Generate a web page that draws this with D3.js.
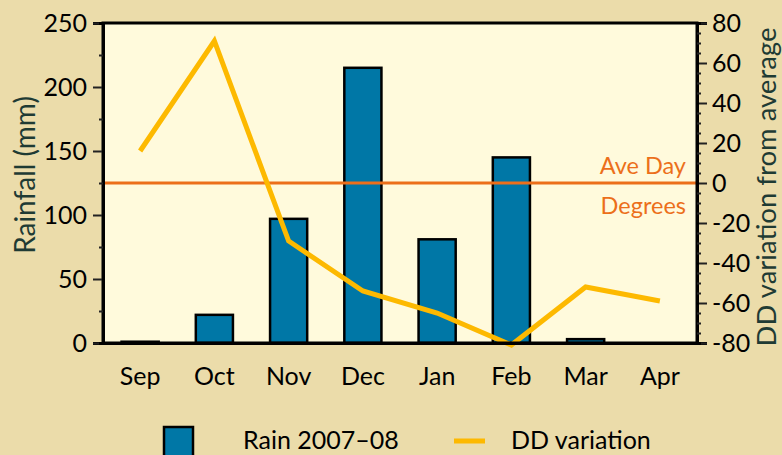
<!DOCTYPE html>
<html>
<head>
<meta charset="utf-8">
<script src="https://cdn.jsdelivr.net/npm/d3@7"></script>
<style>
  html, body { margin: 0; padding: 0; background: #ebdcaa; }
  svg { display: block; font-family: Lato, "Open Sans", sans-serif; }
</style>
</head>
<body>
<svg id="chart" width="782" height="455"></svg>
<script>
// Data
const months = ['Sep', 'Oct', 'Nov', 'Dec', 'Jan', 'Feb', 'Mar', 'Apr'];
const rain = [1, 22, 97, 215, 81, 145, 3, 0];          // mm
const ddVariation = [16, 71, -29, -54, -65, -81, -52, -59]; // degree days
const rainTicks = [0, 50, 100, 150, 200, 250];
const ddTicks = [-80, -60, -40, -20, 0, 20, 40, 60, 80];
const legendNames = ['Rain 2007\u201308', 'DD variation'];

// Some set up.
const width = 782;
const height = 455;
const margin = { top: 23, right: 85, bottom: 112, left: 103 };
const plotW = width - margin.left - margin.right;
const plotH = height - margin.top - margin.bottom;

const blue = '#0077a6';
const gold = '#fdb900';
const orange = '#ec6f1a';
const titleColour = '#1f3b34';

const svg = d3.select('#chart');

// Scales
const x = d3.scaleBand()
  .domain(months)
  .range([margin.left, margin.left + plotW])
  .paddingInner(0.5)
  .paddingOuter(0.25);
const yLeft = d3.scaleLinear().domain([0, 250]).range([margin.top + plotH, margin.top]);
const yRight = d3.scaleLinear().domain([-80, 80]).range([margin.top + plotH, margin.top]);

// Plot background
svg.append('rect')
  .attr('x', margin.left).attr('y', margin.top)
  .attr('width', plotW).attr('height', plotH)
  .attr('fill', '#fffadc');

// Bars
svg.append('g')
  .selectAll('rect')
  .data(months)
  .join('rect')
  .attr('x', d => x(d))
  .attr('y', (d, i) => yLeft(rain[i]))
  .attr('width', x.bandwidth())
  .attr('height', (d, i) => yLeft(0) - yLeft(rain[i]))
  .attr('fill', blue)
  .attr('stroke', '#000')
  .attr('stroke-width', 2.5)
  .style('display', (d, i) => rain[i] > 0 ? null : 'none');

// Zero line of the degree-day axis
svg.append('line')
  .attr('x1', margin.left).attr('x2', margin.left + plotW)
  .attr('y1', yRight(0)).attr('y2', yRight(0))
  .attr('stroke', orange).attr('stroke-width', 3);

svg.append('text')
  .attr('x', margin.left + plotW - 11).attr('y', yRight(0) - 9)
  .attr('text-anchor', 'end')
  .attr('fill', orange).attr('font-size', 23.5)
  .text('Ave Day');
svg.append('text')
  .attr('x', margin.left + plotW - 11).attr('y', yRight(0) + 31)
  .attr('text-anchor', 'end')
  .attr('fill', orange).attr('font-size', 23.5)
  .text('Degrees');

// DD line
const line = d3.line()
  .x((d, i) => x(months[i]) + x.bandwidth() / 2)
  .y(d => yRight(d));
svg.append('path')
  .datum(ddVariation)
  .attr('d', line)
  .attr('fill', 'none')
  .attr('stroke', gold)
  .attr('stroke-width', 5)
  .attr('stroke-linejoin', 'miter');

// Frame
svg.append('path')
  .attr('d', `M${margin.left},${margin.top + plotH}V${margin.top}H${margin.left + plotW}V${margin.top + plotH}Z`)
  .attr('fill', 'none').attr('stroke', '#000').attr('stroke-width', 3);

// Left axis (major + minor)
svg.append('g')
  .attr('transform', `translate(${margin.left},0)`)
  .call(d3.axisLeft(yLeft).tickValues(rainTicks).tickSize(10).tickPadding(6));
svg.append('g')
  .attr('transform', `translate(${margin.left},0)`)
  .call(d3.axisLeft(yLeft).tickValues(d3.range(25, 250, 50)).tickSize(4).tickFormat(''));

// Right axis (major + minor)
svg.append('g')
  .attr('transform', `translate(${margin.left + plotW},0)`)
  .call(d3.axisRight(yRight).tickValues(ddTicks).tickSize(10).tickPadding(5).tickFormat(d => String(d)));
svg.append('g')
  .attr('transform', `translate(${margin.left + plotW},0)`)
  .call(d3.axisRight(yRight).tickValues(d3.range(-80, 81, 5).filter(v => v % 20 !== 0)).tickSize(4).tickFormat(''));

// Bottom axis labels
const bottomAxis = svg.append('g')
  .attr('transform', `translate(0,${margin.top + plotH})`)
  .call(d3.axisBottom(x).tickSize(0).tickPadding(24));

svg.selectAll('.domain').attr('stroke', '#000').attr('stroke-width', 3);
svg.selectAll('.tick line').attr('stroke', '#222').attr('stroke-width', 2);
svg.selectAll('.tick text')
  .attr('font-family', 'Lato, "Open Sans", sans-serif')
  .attr('font-size', 25)
  .attr('fill', '#000');
bottomAxis.selectAll('.tick text').attr('dy', '0.71em');

// Axis titles
svg.append('text')
  .attr('transform', 'translate(35,175) rotate(-90)')
  .attr('text-anchor', 'middle')
  .attr('fill', titleColour).attr('font-size', 28)
  .text('Rainfall (mm)');
svg.append('text')
  .attr('transform', 'translate(776,187) rotate(-90)')
  .attr('text-anchor', 'middle')
  .attr('fill', titleColour).attr('font-size', 27.5)
  .text('DD variation from average');

// Legend
const legend = svg.append('g');
legend.append('rect')
  .attr('x', 164).attr('y', 427).attr('width', 29).attr('height', 30)
  .attr('fill', blue).attr('stroke', '#000').attr('stroke-width', 2.5);
legend.append('text')
  .attr('x', 243).attr('y', 449)
  .attr('font-size', 25).attr('fill', '#000')
  .text(legendNames[0]);
legend.append('line')
  .attr('x1', 454).attr('x2', 485).attr('y1', 441).attr('y2', 441)
  .attr('stroke', gold).attr('stroke-width', 5);
legend.append('text')
  .attr('x', 511).attr('y', 449)
  .attr('font-size', 25).attr('fill', '#000')
  .text(legendNames[1]);
</script>
</body>
</html>
